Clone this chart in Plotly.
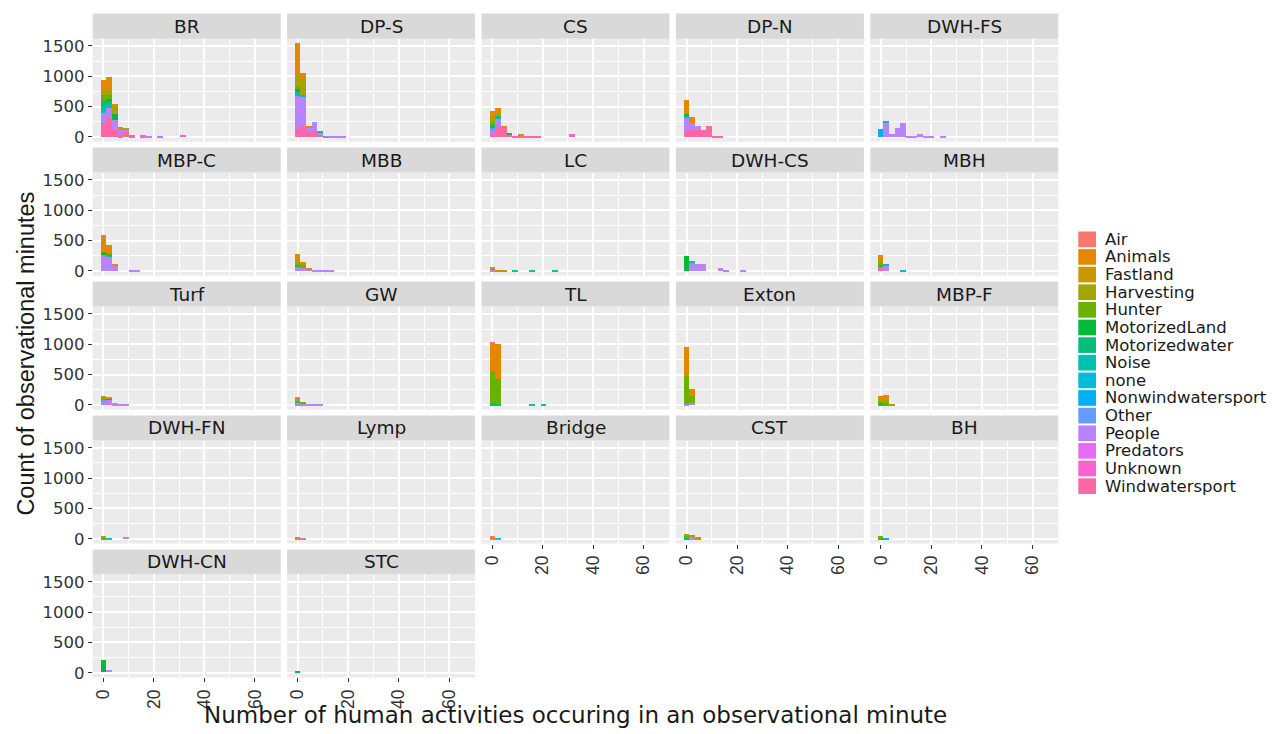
import plotly.graph_objects as go

# Activity categories (legend order) and their fill colours
CATEGORIES = ["Air", "Animals", "Fastland", "Harvesting", "Hunter", "MotorizedLand",
              "Motorizedwater", "Noise", "none", "Nonwindwatersport", "Other", "People",
              "Predators", "Unknown", "Windwatersport"]
COLORS = ["#F8766D", "#E58700", "#C99800", "#A3A500", "#6BB100", "#00BA38",
          "#00BF7D", "#00C0AF", "#00BCD8", "#00B0F6", "#619CFF", "#B983FF",
          "#E76BF3", "#FD61D1", "#FF67A4"]

BIN_WIDTH = 2.24  # histogram bin width (bins centred on 0, 2.24, 4.48, ...)

# Counts per bin (index 0 = first bin) for each site and activity
BR = {
    "Windwatersport": [239, 311, 120, 30, 100, 30],
    "Unknown": [0, 0, 0, 0, 0, 0, 0, 30, 0, 0, 0, 0, 0, 0, 45],
    "People": [167, 178, 170, 90, 30, 0, 0, 0, 10, 0, 15],
    "Noise": [100, 60],
    "Motorizedwater": [80, 50],
    "MotorizedLand": [20, 28, 100],
    "Hunter": [90, 70],
    "Harvesting": [90, 80, 130, 30, 15],
    "Animals": [150, 211, 30, 20],
}
DP_S = {
    "Windwatersport": [138, 180, 100, 100, 50],
    "People": [539, 500, 50, 150, 25, 0, 5, 5, 5],
    "Other": [0, 0, 0, 0, 0, 15],
    "Noise": [83, 20, 0, 0, 25],
    "MotorizedLand": [30],
    "Hunter": [60],
    "Harvesting": [160, 250],
    "Animals": [550, 110, 35],
}
CS = {
    "Windwatersport": [50, 165, 154, 33, 25, 30, 25, 25, 25],
    "Unknown": [0, 0, 0, 0, 0, 0, 0, 0, 0, 0, 0, 0, 0, 0, 60],
    "People": [60, 143],
    "Other": [40],
    "Motorizedwater": [50, 39],
    "MotorizedLand": [0, 0, 0, 39],
    "Hunter": [60],
    "Harvesting": [80, 55],
    "Animals": [90, 82, 28, 0, 0, 20],
}
DP_N = {
    "Windwatersport": [100, 126, 127, 116, 193, 28, 15],
    "People": [220, 110, 66],
    "Noise": [40],
    "MotorizedLand": [30],
    "Animals": [230, 94],
}
DWH_FS = {
    "People": [0, 236, 55, 154, 236, 17, 28, 55, 17, 5, 0, 22],
    "Nonwindwatersport": [143],
    "Noise": [0, 39],
}
MBP_C = {
    "People": [275, 245, 95, 0, 0, 10, 15],
    "Motorizedwater": [0, 25],
    "MotorizedLand": [20],
    "Hunter": [35, 30],
    "Animals": [260, 125, 15],
}
MBB = {
    "People": [80, 50, 35, 15, 5, 5, 5],
    "MotorizedLand": [10],
    "Hunter": [40, 60],
    "Harvesting": [30, 20],
    "Animals": [130, 30, 15],
}
LC = {
    "People": [25],
    "Noise": [0, 0, 0, 0, 15, 0, 0, 20, 0, 0, 0, 10],
    "Hunter": [15],
    "Harvesting": [10, 0, 10],
    "Fastland": [0, 6],
    "Animals": [15, 10],
}
DWH_CS = {
    "People": [0, 140, 125, 115, 0, 0, 55, 28, 0, 0, 12],
    "Noise": [0, 20],
    "MotorizedLand": [250],
}
MBH = {
    "Windwatersport": [75],
    "People": [0, 90],
    "Nonwindwatersport": [0, 15],
    "none": [0, 15, 0, 0, 15],
    "MotorizedLand": [20],
    "Hunter": [40],
    "Harvesting": [50],
    "Animals": [80],
}
TURF = {
    "People": [50, 90, 30, 12, 5],
    "Other": [40],
    "Noise": [20, 10],
    "MotorizedLand": [0, 10],
    "Hunter": [10],
    "Animals": [30, 30],
}
GW = {
    "Windwatersport": [10],
    "People": [30, 25, 19, 8, 8],
    "Motorizedwater": [20],
    "Hunter": [20, 25],
    "Harvesting": [20],
    "Animals": [40],
}
TL = {
    "Noise": [0, 0, 0, 0, 0, 0, 0, 15, 0, 12],
    "Motorizedwater": [30, 15],
    "Hunter": [530, 420],
    "Animals": [460, 580],
    "Air": [10],
}
EXTON = {
    "People": [15, 35],
    "Hunter": [470, 110],
    "Animals": [470, 125],
}
MBP_F = {
    "Noise": [15],
    "MotorizedLand": [20],
    "Hunter": [20, 30],
    "Harvesting": [50, 75, 14],
    "Animals": [50, 68],
}
DWH_FN = {
    "People": [0, 0, 0, 0, 41],
    "Other": [0, 9],
    "Noise": [10, 10],
    "Hunter": [15],
    "Harvesting": [25],
}
LYMP = {
    "Windwatersport": [0, 6],
    "People": [12, 8],
    "Harvesting": [8],
    "Animals": [10],
}
BRIDGE = {
    "People": [20],
    "Other": [0, 9],
    "none": [0, 10],
    "Animals": [15],
    "Air": [6],
}
CST = {
    "People": [0, 30],
    "Motorizedwater": [15],
    "Hunter": [40],
    "Harvesting": [30, 38],
    "Animals": [0, 0, 30],
}
BH = {
    "Nonwindwatersport": [0, 12],
    "MotorizedLand": [20],
    "Hunter": [26],
}
DWH_CN = {
    "People": [0, 40],
    "MotorizedLand": [197],
}
STC = {
    "MotorizedLand": [25],
}

SITES = [("BR", BR), ("DP-S", DP_S), ("CS", CS), ("DP-N", DP_N), ("DWH-FS", DWH_FS),
         ("MBP-C", MBP_C), ("MBB", MBB), ("LC", LC), ("DWH-CS", DWH_CS), ("MBH", MBH),
         ("Turf", TURF), ("GW", GW), ("TL", TL), ("Exton", EXTON), ("MBP-F", MBP_F),
         ("DWH-FN", DWH_FN), ("Lymp", LYMP), ("Bridge", BRIDGE), ("CST", CST), ("BH", BH),
         ("DWH-CN", DWH_CN), ("STC", STC)]

X_TICKS = [0, 20, 40, 60]
Y_TICKS = [0, 500, 1000, 1500]

# ---- page geometry (pixels) ----
W, H = 1278, 734
NCOL = 5
PANEL_X0, COL_PITCH, PANEL_W = 92.7, 194.4, 188.0
STRIP_Y0, ROW_PITCH, STRIP_H, PLOT_H = 11.7, 135.25, 25.3, 104.0
X_RANGE = [-4.2, 70.2]
Y_RANGE = [-78, 1620]

FONT = "DejaVu Sans"
FONT_NARROW = "Liberation Sans"
TEXT = "#1A1A1A"
TICKTEXT = "#333333"


def fx(px):
    return px / W


def fy(py):
    return 1 - py / H


fig = go.Figure()
layout = dict(
    width=W, height=H, margin=dict(l=0, r=0, t=0, b=0),
    paper_bgcolor="white", plot_bgcolor="#EBEBEB",
    barmode="stack", bargap=0, showlegend=False,
    font=dict(family=FONT, color=TEXT),
)
shapes, annotations = [], []

n_sites = len(SITES)
for i, (site, counts) in enumerate(SITES):
    r, c = divmod(i, NCOL)
    n = i + 1
    xa = "x" if n == 1 else f"x{n}"
    ya = "y" if n == 1 else f"y{n}"

    # stacked bars: last legend level at the bottom, first at the top
    for cat, col in reversed(list(zip(CATEGORIES, COLORS))):
        vals = counts.get(cat)
        if not vals:
            continue
        xs = [k * BIN_WIDTH for k in range(len(vals))]
        fig.add_trace(go.Bar(
            x=xs, y=vals, width=BIN_WIDTH, name=cat,
            marker=dict(color=col, line=dict(width=0)),
            xaxis=xa, yaxis=ya, hoverinfo="skip",
        ))

    x0 = PANEL_X0 + c * COL_PITCH
    x1 = x0 + PANEL_W
    s0 = STRIP_Y0 + r * ROW_PITCH
    p0 = s0 + STRIP_H
    p1 = p0 + PLOT_H

    bottom_of_column = (i + NCOL) >= n_sites
    left_column = c == 0

    layout["xaxis" if n == 1 else f"xaxis{n}"] = dict(
        domain=[fx(x0), fx(x1)], anchor=ya, range=X_RANGE,
        tickvals=X_TICKS, showticklabels=bottom_of_column,
        ticks="outside" if bottom_of_column else "", ticklen=4, tickwidth=1.2,
        tickcolor="#333333", tickangle=-90,
        tickfont=dict(family=FONT_NARROW, size=17.5, color=TICKTEXT),
        showgrid=True, gridcolor="white", gridwidth=1.6, zeroline=False,
        showline=False,
        minor=dict(tickvals=[10, 30, 50, 70], showgrid=True,
                   gridcolor="white", gridwidth=0.7, ticks=""),
    )
    layout["yaxis" if n == 1 else f"yaxis{n}"] = dict(
        domain=[fy(p1), fy(p0)], anchor=xa, range=Y_RANGE,
        tickvals=Y_TICKS, showticklabels=left_column,
        ticks="outside" if left_column else "", ticklen=4, tickwidth=1.2,
        tickcolor="#333333",
        tickfont=dict(family=FONT, size=16.5, color=TICKTEXT),
        showgrid=True, gridcolor="white", gridwidth=1.6, zeroline=False,
        showline=False,
        minor=dict(tickvals=[250, 750, 1250], showgrid=True,
                   gridcolor="white", gridwidth=0.7, ticks=""),
    )

    # facet strip
    shapes.append(dict(type="rect", xref="paper", yref="paper",
                       x0=fx(x0), x1=fx(x1), y0=fy(p0), y1=fy(s0),
                       fillcolor="#D9D9D9", line=dict(width=0), layer="below"))
    annotations.append(dict(text=site, xref="paper", yref="paper",
                            x=fx((x0 + x1) / 2), y=fy((s0 + p0) / 2),
                            xanchor="center", yanchor="middle", showarrow=False,
                            font=dict(family=FONT, size=18.5, color=TEXT)))

# axis titles
grid_left = PANEL_X0
grid_right = PANEL_X0 + (NCOL - 1) * COL_PITCH + PANEL_W
annotations.append(dict(
    text="Number of human activities occuring in an observational minute",
    xref="paper", yref="paper", x=fx((grid_left + grid_right) / 2), y=fy(720),
    xanchor="center", yanchor="middle", showarrow=False,
    font=dict(family=FONT, size=23, color=TEXT)))
annotations.append(dict(
    text="Count of observational minutes", textangle=-90,
    xref="paper", yref="paper", x=fx(26), y=fy(355),
    xanchor="center", yanchor="middle", showarrow=False,
    font=dict(family=FONT_NARROW, size=23.5, color=TEXT)))

# legend keys
LEG_X0, LEG_X1 = 1078.3, 1096.0
LEG_Y0, LEG_PITCH, LEG_BOX = 231.7, 17.8, 15.8
for j, (cat, col) in enumerate(zip(CATEGORIES, COLORS)):
    ty = LEG_Y0 + j * LEG_PITCH
    shapes.append(dict(type="rect", xref="paper", yref="paper",
                       x0=fx(LEG_X0), x1=fx(LEG_X1), y0=fy(ty + LEG_BOX), y1=fy(ty),
                       fillcolor=col, line=dict(width=0)))
    annotations.append(dict(text=cat, xref="paper", yref="paper",
                            x=fx(1102.5), y=fy(ty + LEG_BOX / 2),
                            xanchor="left", yanchor="middle", showarrow=False,
                            height=17, valign="middle",
                            font=dict(family=FONT, size=16.5, color=TEXT)))

layout["shapes"] = shapes
layout["annotations"] = annotations
fig.update_layout(**layout)
fig.write_html("out.html")
